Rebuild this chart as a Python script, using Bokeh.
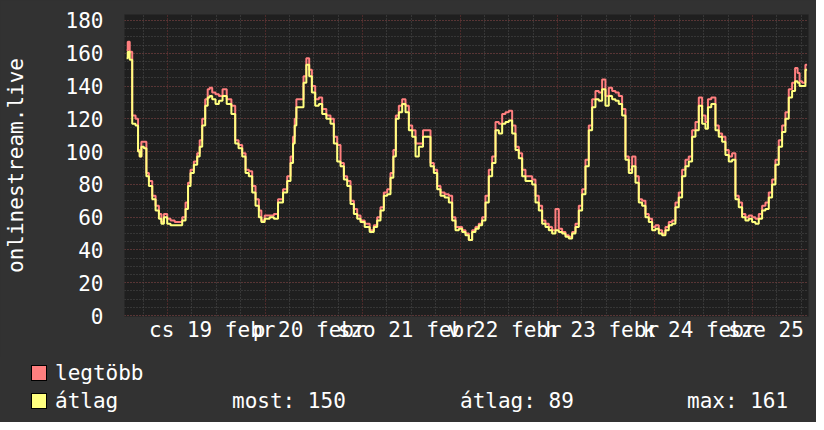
from bokeh.plotting import figure
from bokeh.models import Range1d, FixedTicker, SingleIntervalTicker, ColumnDataSource, Div
from bokeh.layouts import column
from bokeh.embed import file_html
from bokeh.resources import INLINE

# ---------------- data (hours from midnight of Thu 19 Feb) ----------------
hours = [
    -10.09, -9.52, -9.11, -8.29, -7.47, -7.06, -6.65, -6.24, -5.42, -5.00,
    -4.18, -3.36, -2.54, -1.72, -1.31, -0.49, 0.33, 1.15, 2.38, 3.20,
    4.02, 4.84, 5.25, 6.07, 6.89, 7.71, 8.12, 8.94, 9.60, 10.17,
    10.58, 11.40, 12.23, 13.05, 14.03, 15.10, 16.33, 16.98, 17.97, 18.79,
    19.61, 20.43, 21.25, 22.07, 22.89, 23.30, 24.53, 25.76, 26.58, 27.82,
    29.05, 29.87, 30.69, 31.10, 31.51, 31.92, 33.15, 33.80, 34.54, 35.20,
    35.86, 36.84, 37.66, 38.48, 39.71, 40.53, 41.35, 42.17, 43.00, 43.82,
    44.64, 45.46, 46.28, 47.10, 47.92, 49.15, 50.38, 51.20, 52.02, 52.84,
    53.66, 54.48, 55.30, 55.88, 56.53, 57.35, 58.17, 59.00, 59.82, 60.64,
    61.46, 62.28, 63.51, 64.33, 65.15, 65.97, 66.79, 67.61, 68.84, 69.66,
    70.48, 71.30,
    72.12, 72.94, 73.76, 74.58, 75.40, 76.22, 77.04, 77.86, 78.68, 79.50,
    80.33, 81.15, 81.97, 82.79, 83.61, 84.43, 85.25, 86.07, 86.89, 87.71,
    88.53, 89.35, 90.17, 90.99, 91.81, 92.63, 93.45, 94.27, 95.09, 95.91,
    96.74, 97.56, 98.38, 99.20, 100.02, 100.84, 101.66, 102.48, 103.30, 104.12,
    104.94, 105.76, 106.58, 107.40, 108.22, 109.04, 109.86, 110.68, 111.50, 112.32,
    113.15, 113.97, 114.79, 115.61, 116.43, 117.25, 118.07, 118.89, 119.71, 120.53,
    121.35, 122.17, 122.99, 123.81, 124.63, 125.45, 126.27, 127.09, 127.91, 128.73,
    129.56, 130.38, 131.20, 132.02, 132.84, 133.25, 134.48, 135.30, 136.12, 136.94,
    137.76, 138.58, 139.40, 140.22, 141.04, 141.86, 142.68, 143.50, 144.32, 145.14,
    145.97, 146.79, 147.61, 148.43, 149.25, 150.07, 150.89, 151.71, 152.53, 153.35,
    154.17, 154.83, 155.40, 155.81, 156.63, 157.45,
]

legtobb = [  # maximum
    162, 167, 161, 122, 120, 101, 97, 106, 106, 87,
    82, 73, 67, 62, 57, 62, 59, 58, 57, 57,
    60, 69, 81, 89, 94, 99, 107, 120, 132, 138,
    139, 136, 135, 134, 138, 132, 128, 107, 104, 99,
    89, 88, 79, 71, 64, 58, 61, 61, 62, 71,
    77, 85, 97, 109, 120, 132, 132, 146, 157, 150,
    140, 132, 133, 126, 122, 120, 109, 104, 93, 85,
    82, 70, 65, 61, 58, 56, 52, 55, 60, 66,
    75, 77, 87, 101, 122, 128, 132, 128, 116, 113,
    105, 105, 113, 113, 93, 89, 79, 75, 74, 73,
    60, 54,
    54, 52, 50, 46, 52, 54, 56, 60, 73, 89,
    97, 118, 117, 123, 124, 125, 116, 103, 99, 89,
    85, 85, 83, 73, 67, 58, 56, 54, 52, 65,
    53, 51, 49, 48, 51, 56, 67, 77, 95, 116,
    132, 137, 136, 144, 134, 139, 137, 136, 134, 126,
    97, 89, 97, 85, 71, 70, 62, 59, 54, 55,
    52, 50, 54, 57, 58, 69, 75, 89, 95, 97,
    113, 118, 133, 122, 118, 132, 133, 116, 111, 109,
    101, 97, 99, 73, 69, 62, 60, 61, 60, 59,
    62, 67, 69, 75, 83, 95, 107, 116, 124, 138,
    142, 151, 148, 143, 142, 153,
]

atlag = [  # average
    157, 161, 156, 117, 116, 100, 97, 103, 102, 85,
    79, 71, 64, 59, 56, 60, 56, 55, 55, 55,
    58, 65, 79, 87, 92, 97, 103, 116, 128, 133,
    134, 132, 129, 131, 134, 129, 123, 105, 102, 97,
    87, 85, 75, 67, 60, 57, 59, 60, 59, 69,
    75, 82, 93, 105, 116, 127, 127, 142, 153, 146,
    136, 128, 129, 123, 120, 117, 105, 94, 91, 83,
    79, 68, 62, 59, 57, 54, 51, 54, 58, 64,
    73, 74, 84, 97, 120, 124, 129, 124, 113, 109,
    97, 103, 109, 109, 91, 87, 77, 73, 72, 69,
    58, 52,
    53, 51, 49, 46, 51, 53, 55, 58, 69, 85,
    93, 113, 111, 117, 118, 119, 111, 101, 96, 85,
    82, 82, 80, 69, 64, 56, 54, 52, 50, 52,
    51, 50, 48, 47, 50, 54, 64, 74, 91, 113,
    127, 132, 131, 138, 128, 134, 132, 131, 129, 122,
    95, 87, 91, 81, 69, 67, 60, 57, 52, 53,
    50, 49, 52, 55, 56, 66, 72, 85, 91, 94,
    109, 113, 128, 117, 114, 127, 129, 113, 109, 106,
    98, 94, 95, 71, 66, 60, 58, 59, 57, 56,
    59, 64, 65, 72, 80, 92, 103, 112, 120, 133,
    137, 143, 142, 140, 140, 150,
]

NB = "\u00a0"
day_label_hours = [11, 35, 59, 83, 107, 131, 155]
day_labels = ["cs 19 febr", "p 20 febr", "szo 21 febr", "v 22 febr",
              "h 23 febr", "k 24 febr", "sze 25" + NB]
day_bounds = [0, 24, 48, 72, 96, 120, 144]
six_hours = [-6, 6, 12, 18, 30, 36, 42, 54, 60, 66, 78, 84, 90, 102, 108, 114,
             126, 132, 138, 150, 156]

series_names = ["legtöbb", "átlag"]
stat_labels = ["most: 150", "átlag: 89", "max: 161"]
y_title = "onlinestream.live"

# ---------------- styling ----------------
FONT = "DejaVu Sans Mono"
BG = "#323232"
PLOT_BG = "#1f1f1f"
PINK = "#ff7f7f"
YELLOW = "#ffff7f"
MAJOR = "#7a3434"
MINOR = "#4e4e4e"

X0, X1 = -10.6, 157.8
Y0, Y1 = -0.61, 183.66

p = figure(frame_width=684, frame_height=302,
           x_range=Range1d(X0, X1), y_range=Range1d(Y0, Y1),
           output_backend="svg", toolbar_location=None,
           min_border_left=124, min_border_right=8,
           min_border_top=14, min_border_bottom=41,
           background_fill_color=PLOT_BG, border_fill_color=BG,
           outline_line_color=None)

# axes
p.xaxis.ticker = FixedTicker(ticks=day_label_hours)
p.xaxis.major_label_overrides = {h: t for h, t in zip(day_label_hours, day_labels)}
p.yaxis.ticker = SingleIntervalTicker(interval=20, num_minor_ticks=4)
for ax in (p.xaxis[0], p.yaxis[0]):
    ax.axis_line_color = None
    ax.major_tick_line_color = None
    ax.minor_tick_line_color = None
    ax.major_label_text_font = FONT
    ax.major_label_text_font_size = "21px"
    ax.major_label_text_color = "#ffffff"
p.xaxis.major_label_standoff = -5
p.yaxis.major_label_standoff = 15
p.yaxis.axis_label = y_title
p.yaxis.axis_label_text_font = FONT
p.yaxis.axis_label_text_font_size = "21px"
p.yaxis.axis_label_text_font_style = "normal"
p.yaxis.axis_label_text_color = "#ffffff"
p.yaxis.axis_label_standoff = 35

# grids
p.xgrid.ticker = FixedTicker(ticks=day_bounds, minor_ticks=six_hours)
for g in (p.xgrid[0], p.ygrid[0]):
    g.grid_line_color = MAJOR
    g.grid_line_dash = "1 2"
    g.grid_line_width = 1
    g.minor_grid_line_color = MINOR
    g.minor_grid_line_dash = "1 2"
    g.minor_grid_line_width = 1

src = ColumnDataSource(dict(h=hours, mx=legtobb, avg=atlag))
p.step(x="h", y="mx", source=src, mode="center", line_color=PINK, line_width=2)
p.step(x="h", y="avg", source=src, mode="center", line_color=YELLOW, line_width=2)

# ---------------- legend strip (HTML) ----------------
def box(left, top, color):
    return (f'<span style="position:absolute;left:{left}px;top:{top}px;width:16px;height:16px;'
            f'box-sizing:border-box;border:1px solid #000;background:{color};"></span>')

def txt(left, top, s):
    return (f'<span style="position:absolute;left:{left}px;top:{top}px;line-height:21px;'
            f'white-space:pre;">{s}</span>')

html = (
    f'<div style="position:relative;width:816px;height:65px;background:{BG};'
    f'font-family:\'{FONT}\';font-size:21px;color:#ffffff;overflow:hidden;">'
    + box(31, 8, PINK) + box(31, 36, YELLOW)
    + txt(55, 6, series_names[0]) + txt(55, 34, series_names[1])
    + txt(232, 34, stat_labels[0]) + txt(460, 34, stat_labels[1]) + txt(687, 34, stat_labels[2])
    + '</div>'
)
legend_div = Div(text=html, width=816, height=65, margin=(0, 0, 0, 0),
                 styles={"background-color": BG})

layout = column(p, legend_div, spacing=0, styles={"background-color": BG})
open("out.html", "w").write(file_html(layout, INLINE))
